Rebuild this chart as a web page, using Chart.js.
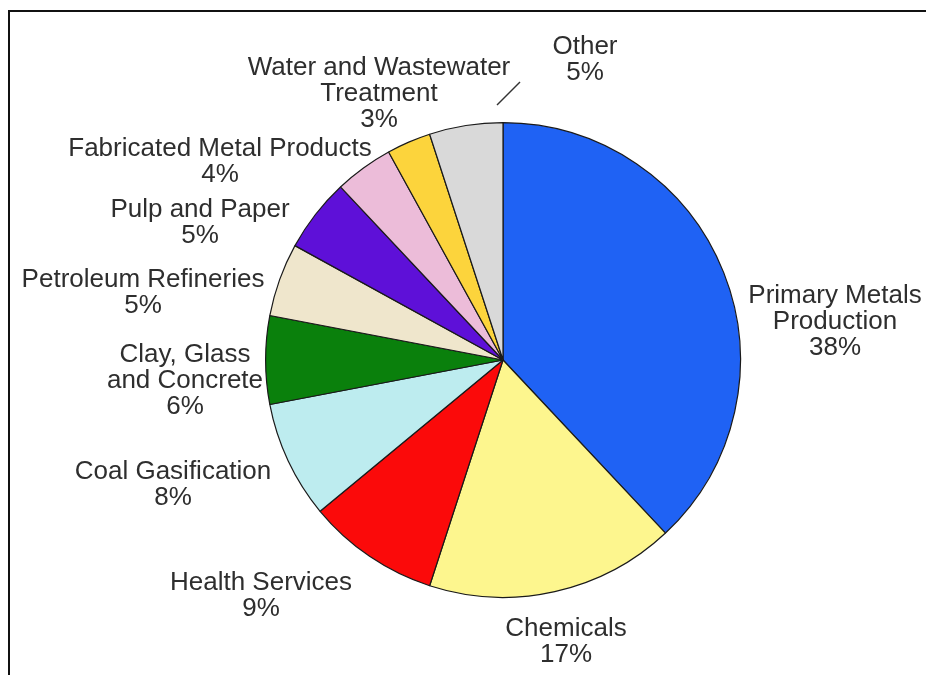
<!DOCTYPE html>
<html>
<head>
<meta charset="utf-8">
<script src="https://cdn.jsdelivr.net/npm/chart.js@4/dist/chart.umd.min.js"></script>
<style>
  html, body { margin: 0; padding: 0; background: #ffffff; }
  #wrap { position: relative; width: 926px; height: 675px; }
</style>
</head>
<body>
<div id="wrap"><canvas id="c" width="926" height="675"></canvas></div>
<script>
// ---- data ----
const categories = [
  "Primary Metals Production",
  "Chemicals",
  "Health Services",
  "Coal Gasification",
  "Clay, Glass and Concrete",
  "Petroleum Refineries",
  "Pulp and Paper",
  "Fabricated Metal Products",
  "Water and Wastewater Treatment",
  "Other"
];
const shares = [38, 17, 9, 8, 6, 5, 5, 4, 3, 5];
const labelLines = [
  ["Primary Metals", "Production"],
  ["Chemicals"],
  ["Health Services"],
  ["Coal Gasification"],
  ["Clay, Glass", "and Concrete"],
  ["Petroleum Refineries"],
  ["Pulp and Paper"],
  ["Fabricated Metal Products"],
  ["Water and Wastewater", "Treatment"],
  ["Other"]
];

// ---- styles / layout ----
const sliceColors = [
  "#1f62f4", "#fdf68e", "#fb0a0a", "#bdecef", "#0a800c",
  "#efe6cc", "#5e10d8", "#ecbcd9", "#fcd43c", "#d9d9d9"
];
// label text centre (x) and first-line centre (y)
const labelPos = [
  [835, 296], [566, 629], [261, 583], [173, 472], [185, 355],
  [143, 280], [200, 210], [220, 149], [379, 68], [585, 47]
];
const lineH = 26;
const leader = [[497, 105], [520, 82]];

const framePlugin = {
  id: "frame",
  beforeDraw(chart) {
    const ctx = chart.ctx;
    ctx.save();
    ctx.fillStyle = "#ffffff";
    ctx.fillRect(0, 0, chart.width, chart.height);
    ctx.strokeStyle = "#111";
    ctx.lineWidth = 2;
    ctx.beginPath();
    ctx.moveTo(9, 675);
    ctx.lineTo(9, 11);
    ctx.lineTo(926, 11);
    ctx.stroke();
    ctx.restore();
  }
};

const labelPlugin = {
  id: "sliceLabels",
  afterDatasetsDraw(chart) {
    const ctx = chart.ctx;
    ctx.save();
    ctx.fillStyle = "#2e2e2e";
    ctx.font = "26px 'Liberation Sans', Arial, sans-serif";
    ctx.textAlign = "center";
    ctx.textBaseline = "middle";
    const data = chart.data.datasets[0].data;
    data.forEach((v, i) => {
      const [x, y] = labelPos[i];
      const lines = labelLines[i].concat([v + "%"]);
      lines.forEach((t, k) => ctx.fillText(t, x, y + k * lineH));
    });
    // leader line for "Other"
    ctx.strokeStyle = "#333";
    ctx.lineWidth = 1.5;
    ctx.beginPath();
    ctx.moveTo(leader[0][0], leader[0][1]);
    ctx.lineTo(leader[1][0], leader[1][1]);
    ctx.stroke();
    ctx.restore();
  }
};

new Chart(document.getElementById("c"), {
  type: "pie",
  data: {
    labels: categories,
    datasets: [{
      data: shares,
      backgroundColor: sliceColors,
      borderColor: "#1a1a1a",
      borderWidth: 1.2,
      hoverOffset: 0
    }]
  },
  options: {
    responsive: false,
    animation: false,
    devicePixelRatio: 1,
    layout: { padding: { left: 265, right: 185, top: 122, bottom: 77 } },
    plugins: {
      legend: { display: false },
      tooltip: { enabled: false },
      title: { display: false }
    }
  },
  plugins: [framePlugin, labelPlugin]
});
</script>
</body>
</html>
